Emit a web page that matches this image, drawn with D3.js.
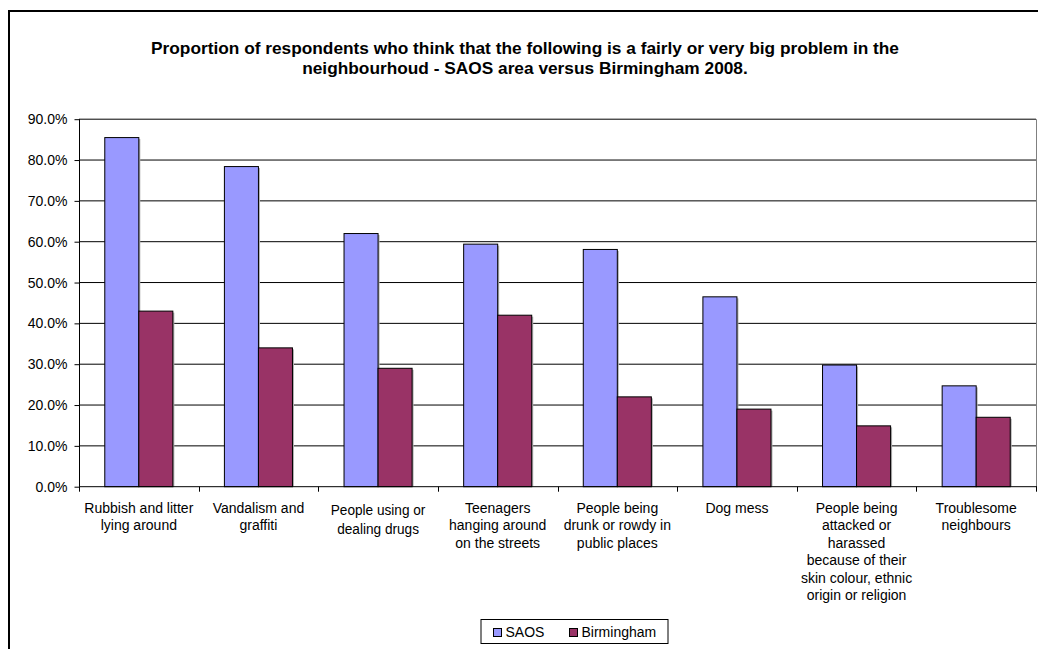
<!DOCTYPE html>
<html>
<head>
<meta charset="utf-8">
<script src="https://cdn.jsdelivr.net/npm/d3@7"></script>
<style>
  html, body { margin: 0; padding: 0; background: #fff; }
  svg { display: block; }
  text { font-family: "Liberation Sans", Arial, sans-serif; fill: #000; }
</style>
</head>
<body>
<svg id="chart" width="1038" height="649"></svg>
<script>
// ---------- data ----------
const categories = [
  "Rubbish and litter lying around",
  "Vandalism and graffiti",
  "People using or dealing drugs",
  "Teenagers hanging around on the streets",
  "People being drunk or rowdy in public places",
  "Dog mess",
  "People being attacked or harassed because of their skin colour, ethnic origin or religion",
  "Troublesome neighbours"
];
const categoryLines = [
  ["Rubbish and litter", "lying around"],
  ["Vandalism and", "graffiti"],
  ["People using or", "dealing drugs"],
  ["Teenagers", "hanging around", "on the streets"],
  ["People being", "drunk or rowdy in", "public places"],
  ["Dog mess"],
  ["People being", "attacked or", "harassed", "because of their", "skin colour, ethnic", "origin or religion"],
  ["Troublesome", "neighbours"]
];
const seriesNames = ["SAOS", "Birmingham"];
const saosValues = [0.855, 0.784, 0.620, 0.594, 0.581, 0.465, 0.298, 0.247];
const birminghamValues = [0.430, 0.340, 0.290, 0.420, 0.220, 0.190, 0.149, 0.170];
const yTicks = [0, 0.1, 0.2, 0.3, 0.4, 0.5, 0.6, 0.7, 0.8, 0.9];
const titleLines = [
  "Proportion of respondents who think that the following is a fairly or very big problem in the",
  "neighbourhoud - SAOS area versus Birmingham 2008."
];
const colors = { "SAOS": "#9999FF", "Birmingham": "#993366" };

// ---------- layout ----------
const svg = d3.select("#chart");
const plot = { left: 79, right: 1036, top: 119.2, bottom: 486.7 };

// outer frame
svg.append("rect")
  .attr("x", 9).attr("y", 11)
  .attr("width", 1100).attr("height", 700)
  .attr("fill", "none").attr("stroke", "#000").attr("stroke-width", 2);

// title
const title = svg.append("text")
  .attr("text-anchor", "middle")
  .style("font-weight", "bold").style("font-size", "17.3px");
titleLines.forEach((t, i) => {
  title.append("tspan").attr("x", 525).attr("y", 54 + i * 20).text(t);
});

// scales
const x0 = d3.scaleBand().domain(categories)
  .range([plot.left, plot.right]).paddingInner(0.431).paddingOuter(0.2155);
const x1 = d3.scaleBand().domain(seriesNames).range([0, x0.bandwidth()]);
const y = d3.scaleLinear().domain([0, 0.9]).range([plot.bottom, plot.top]);

// gridlines
svg.append("g")
  .selectAll("line").data(yTicks.filter(d => d > 0)).join("line")
  .attr("x1", plot.left).attr("x2", plot.right)
  .attr("y1", d => y(d)).attr("y2", d => y(d))
  .attr("stroke", "#000").attr("stroke-width", 1);

// right edge of plot area
svg.append("line")
  .attr("x1", plot.right + 0.5).attr("x2", plot.right + 0.5)
  .attr("y1", y(0.9)).attr("y2", plot.bottom)
  .attr("stroke", "#808080");

// bars
const data = categories.map((c, i) => ({
  cat: c,
  vals: [
    { s: "SAOS", v: saosValues[i] },
    { s: "Birmingham", v: birminghamValues[i] }
  ]
}));
const groups = svg.append("g").selectAll("g").data(data).join("g")
  .attr("transform", d => `translate(${x0(d.cat)},0)`);
// shadow
groups.selectAll("rect.sh").data(d => d.vals).join("rect")
  .attr("class", "sh")
  .attr("x", d => x1(d.s) + 1.5)
  .attr("y", d => y(d.v) + 1.5)
  .attr("width", x1.bandwidth())
  .attr("height", d => plot.bottom - y(d.v) - 1.5)
  .attr("fill", "#b0b0b0");
groups.selectAll("rect.bar").data(d => d.vals).join("rect")
  .attr("class", "bar")
  .attr("x", d => x1(d.s))
  .attr("y", d => y(d.v))
  .attr("width", x1.bandwidth())
  .attr("height", d => plot.bottom - y(d.v))
  .attr("fill", d => colors[d.s])
  .attr("stroke", "#000").attr("stroke-width", 1);

// y axis
const yAxis = svg.append("g")
  .attr("transform", `translate(${plot.left + 0.5},0)`)
  .call(d3.axisLeft(y).tickValues(yTicks).tickFormat(d3.format(".1%")).tickSize(5).tickPadding(7));
yAxis.select(".domain").attr("stroke", "#000").attr("d", `M0,${plot.top}V${plot.bottom}`);
yAxis.selectAll(".tick line").attr("stroke", "#000");
yAxis.selectAll(".tick text")
  .style("font-family", '"Liberation Sans", Arial, sans-serif')
  .style("font-size", "14px").attr("fill", "#000");

// x axis (category boundary ticks)
const step = x0.step();
const boundaries = d3.range(categories.length + 1);
const xAxisG = svg.append("g");
xAxisG.append("line")
  .attr("x1", plot.left).attr("x2", plot.right + 1)
  .attr("y1", plot.bottom).attr("y2", plot.bottom)
  .attr("stroke", "#000");
xAxisG.selectAll("line.tk").data(boundaries).join("line")
  .attr("class", "tk")
  .attr("x1", i => Math.round(plot.left + i * step) + 0.5)
  .attr("x2", i => Math.round(plot.left + i * step) + 0.5)
  .attr("y1", plot.bottom).attr("y2", plot.bottom + 5)
  .attr("stroke", "#000");

// category labels
const labels = svg.append("g").selectAll("text").data(data).join("text")
  .attr("text-anchor", "middle")
  .attr("transform", (d, i) => {
    const cx = x0(d.cat) + x0.bandwidth() / 2;
    return i === 2 ? `translate(${cx},0) scale(0.88,1)` : `translate(${cx},0)`;
  })
  .style("font-size", (d, i) => i === 2 ? "15.5px" : "14px")
  .style("font-family", (d, i) => i === 2 ? '"Liberation Sans Narrow", "Arial Narrow", "Liberation Sans", sans-serif' : null);
labels.each(function(d, i) {
  const t = d3.select(this);
  const lh = i === 2 ? 19 : 17.4;
  const y0 = i === 2 ? 515 : 513;
  categoryLines[i].forEach((line, k) => {
    t.append("tspan").attr("x", 0).attr("y", y0 + k * lh).text(line);
  });
});

// legend
const legend = svg.append("g");
legend.append("rect")
  .attr("x", 481).attr("y", 619.5).attr("width", 187).attr("height", 24)
  .attr("fill", "#fff").attr("stroke", "#000");
const legendItems = [
  { s: "SAOS", x: 493.5 },
  { s: "Birmingham", x: 569.5 }
];
legendItems.forEach(it => {
  legend.append("rect")
    .attr("x", it.x).attr("y", 628.5).attr("width", 8).attr("height", 8)
    .attr("fill", colors[it.s]).attr("stroke", "#000");
  legend.append("text")
    .attr("x", it.x + 12).attr("y", 637)
    .style("font-size", "14px").text(it.s);
});
</script>
</body>
</html>
